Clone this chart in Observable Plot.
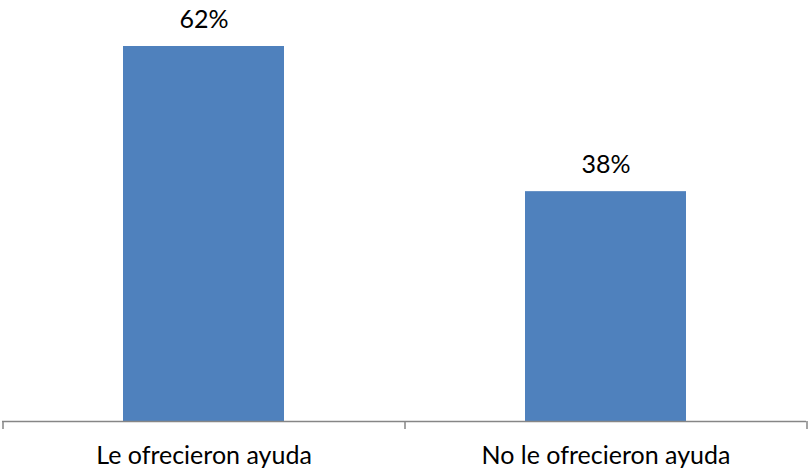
<!DOCTYPE html>
<html>
<head>
<meta charset="utf-8">
<script src="https://cdn.jsdelivr.net/npm/d3@7"></script>
<script src="https://cdn.jsdelivr.net/npm/@observablehq/plot@0.6"></script>
<style>
  html, body { margin: 0; padding: 0; background: #fff; }
  #chart svg { display: block; }
</style>
</head>
<body>
<div id="chart"></div>
<script>
const categories = ["Le ofrecieron ayuda", "No le ofrecieron ayuda"];
const values = [62, 38];
const valueLabels = ["62%", "38%"];

const data = categories.map((c, i) => ({category: c, value: values[i], label: valueLabels[i]}));

const W = 809, H = 472;
const mL = 2, mR = 3, mT = 46, mB = 51;
const pInner = 0.6, pOuter = 0.3;
const step = (W - mL - mR) / (categories.length - pInner + 2 * pOuter);
const font = "Lato, 'Open Sans', sans-serif";
const axisColor = "#868686";
const barColor = "#4F81BD";

const chart = Plot.plot({
  width: W,
  height: H,
  marginLeft: mL,
  marginRight: mR,
  marginTop: mT,
  marginBottom: mB,
  style: {fontFamily: font, fontSize: "25px", color: "#000", background: "#fff"},
  x: {domain: categories, paddingInner: pInner, paddingOuter: pOuter, label: null},
  y: {domain: [0, d3.max(values)], axis: null},
  marks: [
    Plot.barY(data, {x: "category", y: "value", fill: barColor}),
    Plot.text(data, {x: "category", y: "value", text: "label", dy: -27, fill: "#000", fontSize: 25}),
    Plot.ruleY([0], {stroke: axisColor, strokeWidth: 1.5}),
    Plot.ruleX(categories, {x: d => d, y1: 0, y2: 0, insetBottom: -8, dx: -step / 2, stroke: axisColor, strokeWidth: 1.5}),
    Plot.ruleX(categories.slice(-1), {x: d => d, y1: 0, y2: 0, insetBottom: -8, dx: step / 2, stroke: axisColor, strokeWidth: 1.5}),
    Plot.axisX({tickSize: 0, tickPadding: 25, fontSize: 25, fill: "#000", label: null})
  ]
});
document.getElementById("chart").appendChild(chart);
</script>
</body>
</html>
